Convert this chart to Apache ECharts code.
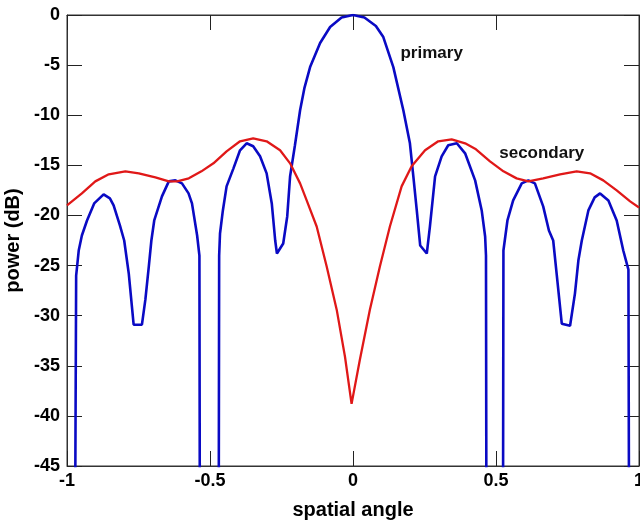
<!DOCTYPE html>
<html><head><meta charset="utf-8">
<script src="https://cdn.jsdelivr.net/npm/echarts@6/dist/echarts.min.js"></script>
<style>html,body{margin:0;padding:0;background:#fff}#c{width:640px;height:523px}</style>
</head><body><div id="c"></div>
<script>
// spatial angle / power (dB)
const primaryAngle = [-1.0,-0.973,-0.968,-0.959,-0.948,-0.93,-0.905,-0.872,-0.85,-0.837,-0.815,-0.80,-0.784,-0.773,-0.767,-0.738,-0.726,-0.714,-0.705,-0.695,-0.668,-0.644,-0.621,-0.598,-0.575,-0.563,-0.545,-0.537,-0.535,-0.47,-0.468,-0.465,-0.455,-0.442,-0.418,-0.395,-0.372,-0.349,-0.325,-0.302,-0.284,-0.272,-0.266,-0.244,-0.23,-0.22,-0.203,-0.185,-0.17,-0.15,-0.115,-0.08,-0.04,0,0.04,0.08,0.106,0.141,0.176,0.199,0.211,0.223,0.235,0.258,0.269,0.287,0.31,0.333,0.363,0.392,0.427,0.45,0.462,0.465,0.467,0.524,0.526,0.54,0.56,0.59,0.613,0.636,0.665,0.685,0.70,0.712,0.73,0.759,0.776,0.788,0.80,0.823,0.845,0.864,0.893,0.922,0.945,0.963,0.966,1.0];
const primaryPower = [-60,-60,-26,-23.5,-22,-20.5,-18.8,-17.9,-18.3,-19,-21,-22.5,-25.8,-29.1,-30.9,-30.9,-28.4,-25.1,-22.5,-20.5,-18.1,-16.6,-16.5,-16.8,-17.8,-18.8,-22,-24,-60,-60,-24,-21.8,-19.5,-17.1,-15.3,-13.5,-12.8,-13.1,-14.1,-15.8,-18.8,-22.5,-23.8,-22.8,-20.1,-16.1,-13,-9.5,-7.3,-5.2,-2.8,-1.2,-0.25,0,-0.25,-1.1,-2.2,-5.2,-9.5,-12.8,-16.1,-19.5,-23,-23.8,-21.1,-16.1,-14.1,-13,-12.8,-13.8,-16.5,-19.5,-22.1,-24,-60,-60,-23.5,-20.5,-18.5,-16.8,-16.5,-16.8,-19.1,-21.5,-22.5,-25.8,-30.8,-31,-27.8,-24.5,-22.5,-19.5,-18.2,-17.8,-18.5,-20.5,-23.5,-25.4,-60,-60];
const secondaryAngle = [-1.0,-0.948,-0.901,-0.854,-0.796,-0.749,-0.691,-0.644,-0.615,-0.574,-0.53,-0.488,-0.442,-0.395,-0.349,-0.302,-0.255,-0.22,-0.185,-0.162,-0.127,-0.092,-0.057,-0.028,-0.005,0.024,0.059,0.094,0.129,0.17,0.205,0.252,0.298,0.345,0.392,0.43,0.479,0.526,0.572,0.613,0.665,0.724,0.782,0.829,0.875,0.922,0.969,1.0];
const secondaryPower = [-19,-17.8,-16.6,-15.9,-15.6,-15.8,-16.2,-16.6,-16.6,-16.3,-15.6,-14.8,-13.6,-12.6,-12.3,-12.6,-13.5,-14.8,-16.8,-18.5,-21.1,-25.1,-29.4,-34.1,-38.8,-34.4,-29.4,-25.1,-21.1,-17.1,-15.1,-13.5,-12.6,-12.4,-12.8,-13.4,-14.6,-15.6,-16.3,-16.6,-16.3,-15.9,-15.6,-15.8,-16.5,-17.5,-18.6,-19.2];
const xRange = [-1, 1], xStep = 0.5;
const yRange = [-45, 0], yStep = 5;
const seriesNames = ['primary', 'secondary'];
const labelAt = [[0.275, -3.8], [0.66, -13.8]];

const FONT = "'Liberation Sans', Arial, sans-serif";
const chart = echarts.init(document.getElementById('c'), null, {renderer: 'canvas'});
const tick = {show: true, inside: true, length: 15, lineStyle: {color: '#222', width: 1}};
const line = {show: true, onZero: false, lineStyle: {color: '#333', width: 1}};
const lab = {fontFamily: FONT, fontSize: 18, fontWeight: 'bold', color: '#000'};
chart.setOption({
  backgroundColor: '#fff',
  animation: false,
  grid: {left: 67, right: 1, top: 15, bottom: 57, show: true, borderColor: '#333', borderWidth: 1,
         containLabel: false, outerBoundsMode: 'none'},
  xAxis: [
    {type: 'value', position: 'bottom', min: xRange[0], max: xRange[1], interval: xStep,
     axisLine: line, axisTick: tick, splitLine: {show: false},
     axisLabel: Object.assign({margin: 6, hideOverlap: false}, lab),
     name: 'spatial angle', nameLocation: 'middle', nameGap: 34,
     nameTextStyle: {fontFamily: FONT, fontSize: 20, fontWeight: 'bold', color: '#000'}},
    {type: 'value', position: 'top', min: xRange[0], max: xRange[1], interval: xStep,
     axisLine: line, axisTick: tick, splitLine: {show: false}, axisLabel: {show: false}}
  ],
  yAxis: [
    {type: 'value', position: 'left', min: yRange[0], max: yRange[1], interval: yStep,
     axisLine: line, axisTick: tick, splitLine: {show: false},
     axisLabel: Object.assign({margin: 7}, lab),
     name: 'power (dB)', nameLocation: 'middle', nameGap: 41,
     nameTextStyle: {fontFamily: FONT, fontSize: 20, fontWeight: 'bold', color: '#000'}},
    {type: 'value', position: 'right', min: yRange[0], max: yRange[1], interval: yStep,
     axisLine: line, axisTick: tick, splitLine: {show: false}, axisLabel: {show: false}}
  ],
  series: [
    {name: seriesNames[0], type: 'line', showSymbol: false, clip: true,
     data: primaryAngle.map((a, i) => [a, primaryPower[i]]),
     lineStyle: {color: '#0a0ac4', width: 2.6}},
    {name: seriesNames[1], type: 'line', showSymbol: false, clip: true, smooth: false,
     data: secondaryAngle.map((a, i) => [a, secondaryPower[i]]),
     lineStyle: {color: '#e01818', width: 2.3}}
  ]
});
const g = seriesNames.map((n, i) => {
  const p = chart.convertToPixel({gridIndex: 0}, labelAt[i]);
  return {type: 'text', x: p[0], y: p[1], z: 100,
    style: {text: n, fill: '#111', font: "bold 17px " + FONT, align: 'center', verticalAlign: 'middle'}};
});
chart.setOption({graphic: g});
</script>
</body></html>
